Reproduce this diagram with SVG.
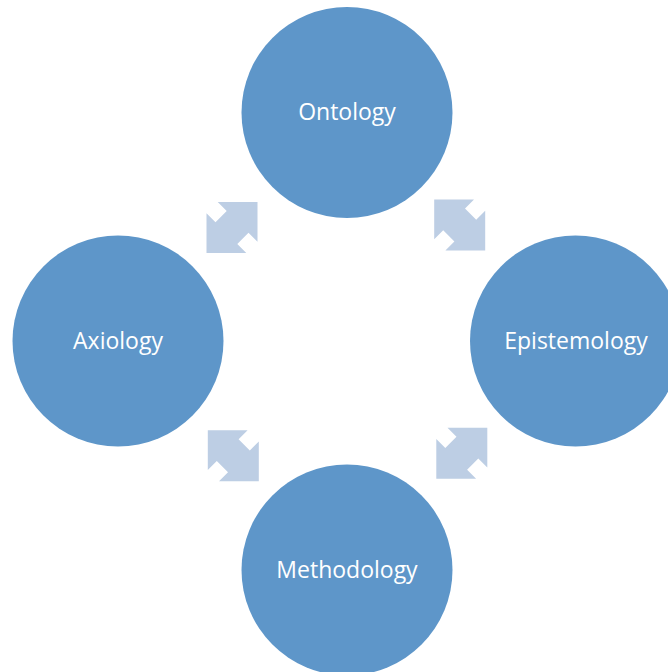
<svg xmlns="http://www.w3.org/2000/svg" xmlns:xlink="http://www.w3.org/1999/xlink" width="668" height="672" viewBox="0 0 668 672">
<style>
.node{fill:#5E96C9;}
.lbl{font-family:"Open Sans","Liberation Sans",sans-serif;font-size:23px;fill:#FFFFFF;text-anchor:middle;}
.arr{fill:#BDCEE4;}
</style>
<defs>
<polygon id="dbl" points="25.5,-25.5 -14.3,-25.5 -5.3,-16.5 -16.5,-5.3 -25.5,-14.3 -25.5,25.5 14.3,25.5 5.3,16.5 16.5,5.3 25.5,14.3"/>
</defs>
<rect width="668" height="672" fill="#FFFFFF"/>
<g id="connectors" class="arr">
<use xlink:href="#dbl" href="#dbl" transform="translate(232,227.5)"/>
<use xlink:href="#dbl" href="#dbl" transform="translate(459.7,225) scale(-1,1)"/>
<use xlink:href="#dbl" href="#dbl" transform="translate(233.3,455.8) scale(-1,1)"/>
<use xlink:href="#dbl" href="#dbl" transform="translate(461.8,453.3)"/>
</g>
<g id="ontology">
<circle class="node" cx="347" cy="112.5" r="105.5"/>
<text class="lbl" x="347" y="120">Ontology</text>
</g>
<g id="epistemology">
<circle class="node" cx="575.5" cy="341" r="105.5"/>
<text class="lbl" x="576" y="349">Epistemology</text>
</g>
<g id="axiology">
<circle class="node" cx="118" cy="341" r="105.5"/>
<text class="lbl" x="118" y="349">Axiology</text>
</g>
<g id="methodology">
<circle class="node" cx="347" cy="570" r="105.5"/>
<text class="lbl" x="347" y="578">Methodology</text>
</g>
</svg>
